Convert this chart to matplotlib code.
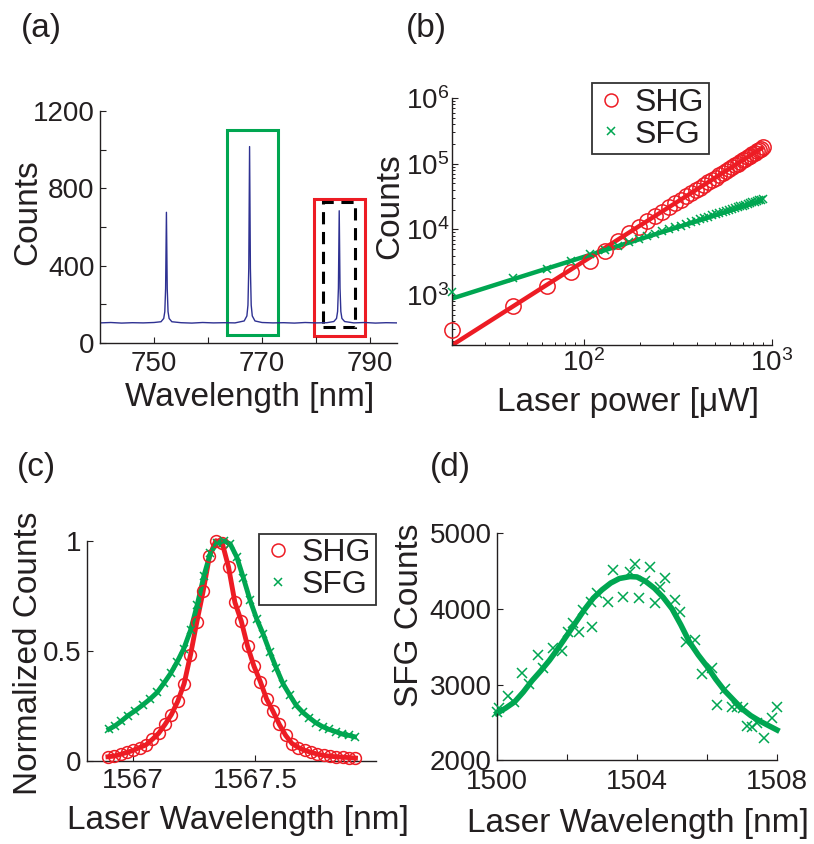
import matplotlib
matplotlib.use("Agg")
import matplotlib.pyplot as plt
from matplotlib.patches import Rectangle

plt.rcParams['font.family'] = ['Liberation Sans', 'DejaVu Sans']
plt.rcParams['mathtext.fontset'] = 'custom'
plt.rcParams['mathtext.rm'] = 'Liberation Sans'
plt.rcParams['mathtext.it'] = 'Liberation Sans:italic'
plt.rcParams['mathtext.default'] = 'regular'

TXT = '#231F20'
RED = '#ED1C24'
GREEN = '#00A651'
BLUE = '#2E3192'

# ---------------- (a) spectrum ----------------
spec_wl = [740, 742, 744, 746, 748, 750, 751.3, 751.8, 752.0, 752.15, 752.3, 752.45, 752.6, 752.8, 753.3,
           755, 757, 759, 761, 763, 765, 766.7, 767.2, 767.4, 767.55, 767.7, 767.85, 768.0, 768.2, 768.7,
           770, 772, 774, 776, 778, 780, 782, 783.3, 783.8, 784.0, 784.15, 784.3, 784.45, 784.6, 784.8, 785.3,
           787, 789, 791, 793, 795]
spec_counts = [104, 106, 103, 105, 104, 106, 110, 127, 162, 281, 676, 281, 162, 127, 110,
               105, 103, 106, 104, 105, 104, 114, 140, 196, 387, 1016, 387, 196, 140, 114,
               106, 104, 105, 103, 106, 104, 105, 111, 127, 163, 283, 684, 283, 163, 127, 111,
               104, 106, 103, 105, 104]
# boxes: (wl_min, wl_max, count_min, count_max)
box_green = (763.5, 772.9, 41, 1102)
box_red = (779.6, 789.0, 36, 743)
box_dash = (781.3, 787.3, 81, 728)

# ---------------- (b) power dependence ----------------
power = [20, 42, 64, 86, 108, 130, 152, 174, 196, 218, 240, 262, 284, 306, 328, 350, 372, 394, 416, 438,
         460, 482, 504, 526, 548, 570, 592, 614, 636, 658, 680, 702, 724, 746, 768, 790, 812, 834, 856, 878, 900]
shg_counts = [294, 688, 1390, 2210, 3290, 4720, 6700, 8800, 11000, 13300, 15900, 18700, 21600, 24800,
              28100, 31700, 35400, 39300, 43400, 47700, 52200, 56800, 61600, 66600, 71800, 77100, 82600,
              88300, 94100, 100200, 106300, 112700, 119200, 125900, 132800, 139800, 147000, 154400,
              161900, 169700, 177500]
sfg_counts = [1100, 1790, 2540, 3290, 4150, 4830, 5600, 6350, 7100, 7850, 8580, 9300, 10000, 10700,
              11400, 12100, 12800, 13500, 14200, 14900, 15600, 16300, 17000, 17700, 18400, 19000, 19700,
              20400, 21050, 21700, 22400, 23050, 23700, 24400, 25050, 25700, 26400, 27000, 27700, 28300, 29000]
fit_power = [20, 900]
shg_fit = [174, 178000]
sfg_fit = [890, 27800]

# ---------------- (c) normalized resonances ----------------
shg_wl = [1566.897, 1566.923, 1566.949, 1566.975, 1567.001, 1567.027, 1567.053, 1567.079, 1567.105,
          1567.131, 1567.157, 1567.183, 1567.209, 1567.235, 1567.261, 1567.287, 1567.313, 1567.339,
          1567.365, 1567.391, 1567.417, 1567.443, 1567.469, 1567.495, 1567.521, 1567.547, 1567.573,
          1567.599, 1567.625, 1567.651, 1567.677, 1567.703, 1567.729, 1567.755, 1567.781, 1567.807,
          1567.833, 1567.859, 1567.885, 1567.911]
shg_norm = [0.018, 0.021, 0.029, 0.038, 0.047, 0.060, 0.072, 0.097, 0.125, 0.165, 0.21, 0.27, 0.35,
            0.48, 0.63, 0.77, 0.93, 1.0, 0.99, 0.88, 0.72, 0.635, 0.52, 0.43, 0.36, 0.28, 0.225, 0.165,
            0.115, 0.078, 0.06, 0.047, 0.038, 0.03, 0.024, 0.02, 0.018, 0.016, 0.014, 0.012]
sfg_wl = [1566.901, 1566.925, 1566.952, 1566.979, 1567.007, 1567.039, 1567.069, 1567.099, 1567.126,
          1567.154, 1567.181, 1567.208, 1567.236, 1567.263, 1567.290, 1567.317, 1567.344, 1567.371,
          1567.398, 1567.425, 1567.452, 1567.479, 1567.506, 1567.533, 1567.560, 1567.587, 1567.614,
          1567.641, 1567.668, 1567.695, 1567.722, 1567.749, 1567.776, 1567.803, 1567.830, 1567.857,
          1567.884, 1567.907]
sfg_norm = [0.143, 0.158, 0.18, 0.205, 0.226, 0.253, 0.28, 0.311, 0.352, 0.397, 0.45, 0.51, 0.595,
            0.71, 0.84, 0.945, 0.99, 1.0, 0.985, 0.925, 0.83, 0.73, 0.645, 0.575, 0.495, 0.42, 0.35,
            0.30, 0.252, 0.22, 0.195, 0.172, 0.155, 0.142, 0.132, 0.121, 0.115, 0.109]

# ---------------- (d) SFG tuning ----------------
d_wl = [1500.00, 1500.05, 1500.31, 1500.48, 1500.72, 1500.91, 1501.17, 1501.31, 1501.60, 1501.87,
        1502.03, 1502.17, 1502.34, 1502.46, 1502.69, 1502.72, 1502.85, 1503.18, 1503.32, 1503.61,
        1503.80, 1503.94, 1504.07, 1504.22, 1504.37, 1504.51, 1504.66, 1504.80, 1505.09, 1505.23,
        1505.40, 1505.66, 1505.85, 1506.13, 1506.28, 1506.51, 1506.71, 1506.85, 1507.04, 1507.15,
        1507.28, 1507.43, 1507.62, 1507.86, 1507.99]
d_counts = [2640, 2690, 2848, 2773, 3156, 3006, 3389, 3213, 3477, 3446,
            3697, 3807, 3697, 3983, 4092, 3760, 4203, 4092, 4511, 4158,
            4488, 4590, 4137, 4370, 4554, 4080, 4290, 4401, 4115, 3960,
            3555, 3587, 3138, 3214, 2730, 2937, 2699, 2699, 2686, 2452,
            2443, 2488, 2290, 2554, 2699]
d_fit_wl = [1500.0, 1500.25, 1500.5, 1500.75, 1501.0, 1501.25, 1501.5, 1501.75, 1502.0, 1502.25,
            1502.5, 1502.75, 1503.0, 1503.25, 1503.5, 1503.8, 1504.0, 1504.25, 1504.5, 1504.75,
            1505.0, 1505.25, 1505.5, 1505.75, 1506.0, 1506.25, 1506.5, 1506.75, 1507.0, 1507.25,
            1507.5, 1507.75, 1508.0]
d_fit = [2620, 2690, 2770, 2900, 3050, 3180, 3320, 3480, 3650, 3820,
         3990, 4140, 4250, 4340, 4400, 4425, 4420, 4360, 4270, 4150,
         4000, 3790, 3560, 3390, 3240, 3070, 2920, 2800, 2680, 2590,
         2520, 2460, 2400]

fig = plt.figure(figsize=(8.14, 8.44), dpi=100)
W, H = 814.0, 844.0


def add_ax(l, t, r, b, **kw):
    return fig.add_axes([l / W, 1 - b / H, (r - l) / W, (b - t) / H], **kw)


def style(ax, pad_x=5.5, pad_y=4):
    for s in ['top', 'right']:
        ax.spines[s].set_visible(False)
    for s in ['left', 'bottom']:
        ax.spines[s].set_linewidth(1.0)
        ax.spines[s].set_color(TXT)
    ax.tick_params(which='major', direction='in', length=4, width=0.8, labelsize=20, colors=TXT)
    ax.tick_params(which='minor', direction='in', length=2.5, width=0.7, colors=TXT)
    ax.tick_params(axis='x', which='major', pad=pad_x)
    ax.tick_params(axis='y', which='major', pad=pad_y)
    ax.patch.set_alpha(0)


def labels(ax, xl, yl, xpos, ypos, size=24):
    ax.set_xlabel(xl, fontsize=size, color=TXT)
    ax.set_ylabel(yl, fontsize=size, color=TXT)
    ax.xaxis.set_label_coords(*xpos)
    ax.yaxis.set_label_coords(*ypos)
    ax.xaxis.label.set_verticalalignment('center')
    ax.yaxis.label.set_verticalalignment('center')


# ---- (a)
axa = add_ax(100, 111, 397, 343)
style(axa, pad_x=5.5)
axa.plot(spec_wl, spec_counts, color=BLUE, lw=1.0)
for (x0, x1, y0, y1), col, ls in [(box_green, GREEN, '-'), (box_red, RED, '-'), (box_dash, 'black', (0, (4, 2.5)))]:
    axa.add_patch(Rectangle((x0, y0), x1 - x0, y1 - y0, fill=False, edgecolor=col, lw=2.2, linestyle=ls))
axa.set_xlim(740, 795)
axa.set_ylim(0, 1200)
axa.set_xticks([750, 760, 770, 780, 790])
axa.set_xticklabels(['750', '', '770', '', '790'])
axa.set_yticks([0, 200, 400, 600, 800, 1000, 1200])
axa.set_yticklabels(['0', '', '400', '', '800', '', '1200'])
labels(axa, 'Wavelength [nm]', 'Counts', (0.505, -0.233), (-0.244, 0.565))

# ---- (b)
axb = add_ax(452.3, 98, 771.7, 345)
style(axb, pad_x=3, pad_y=2)
axb.set_xscale('log')
axb.set_yscale('log')
axb.plot(fit_power, shg_fit, color=RED, lw=3.2, solid_capstyle='butt', zorder=2)
axb.plot(fit_power, sfg_fit, color=GREEN, lw=3.2, solid_capstyle='butt', zorder=2)
axb.plot(power, shg_counts, 'o', mfc='none', mec=RED, ms=11, mew=1.1, label='SHG', zorder=3, clip_on=False)
axb.plot(power, sfg_counts, 'x', color=GREEN, ms=6, mew=1.1, label='SFG', zorder=3, clip_on=False)
axb.set_xlim(20, 1000)
axb.set_ylim(174, 1e6)
labels(axb, 'Laser power [\u03bcW]', 'Counts', (0.55, -0.231), (-0.195, 0.563))
legb = axb.legend(loc='upper left', bbox_to_anchor=(0.436, 1.06), fontsize=23, frameon=True, fancybox=False,
                  edgecolor='black', handlelength=0.9, handletextpad=0.3, borderpad=0.15, labelspacing=0.05,
                  borderaxespad=0, markerscale=0.85)
legb.get_frame().set_linewidth(1.3)
for t in legb.get_texts():
    t.set_color(TXT)

# ---- (c)
axc = add_ax(86.7, 540.7, 376, 760.7)
style(axc)
axc.plot(shg_wl, shg_norm, color=RED, lw=3.5, zorder=2, clip_on=False)
axc.plot(sfg_wl, sfg_norm, color=GREEN, lw=3.5, zorder=2, clip_on=False)
axc.plot(shg_wl, shg_norm, 'o', mfc='none', mec=RED, ms=8.5, mew=1.1, label='SHG', zorder=3, clip_on=False)
axc.plot(sfg_wl, sfg_norm, 'x', color=GREEN, ms=5.5, mew=1.1, label='SFG', zorder=3, clip_on=False)
axc.set_xlim(1566.81, 1567.995)
axc.set_ylim(0, 1)
axc.set_xticks([1567, 1567.5])
axc.set_xticklabels(['1567', '1567.5'])
axc.set_yticks([0, 0.5, 1])
axc.set_yticklabels(['0', '0.5', '1'])
labels(axc, 'Laser Wavelength [nm]', 'Normalized Counts', (0.523, -0.274), (-0.201, 0.49))
legc = axc.legend(loc='upper right', bbox_to_anchor=(1.0, 1.032), fontsize=23, frameon=True, fancybox=False,
                  edgecolor='black', handlelength=0.9, handletextpad=0.3, borderpad=0.15, labelspacing=0.05,
                  borderaxespad=0, markerscale=1.1)
legc.get_frame().set_linewidth(1.3)
for t in legc.get_texts():
    t.set_color(TXT)

# ---- (d)
axd = add_ax(497, 533, 777, 760.3)
style(axd, pad_x=6.5)
axd.plot(d_fit_wl, d_fit, color=GREEN, lw=4.0, zorder=2, clip_on=False)
axd.plot(d_wl, d_counts, 'x', color=GREEN, ms=7.5, mew=1.1, zorder=3, clip_on=False)
axd.set_xlim(1500, 1508)
axd.set_ylim(2000, 5000)
axd.set_xticks([1500, 1502, 1504, 1506, 1508])
axd.set_xticklabels(['1500', '', '1504', '', '1508'])
axd.set_yticks([2000, 3000, 4000, 5000])
axd.set_yticklabels(['2000', '3000', '4000', '5000'])
labels(axd, 'Laser Wavelength [nm]', 'SFG Counts', (0.504, -0.279), (-0.314, 0.639))

# panel letters
for txt, x, y in [('(a)', 21, 28), ('(b)', 406, 28), ('(c)', 17, 468), ('(d)', 430, 468)]:
    fig.text(x / W, 1 - y / H, txt, fontsize=24, color=TXT, ha='left', va='center')

fig.savefig('out.png', dpi=100)
